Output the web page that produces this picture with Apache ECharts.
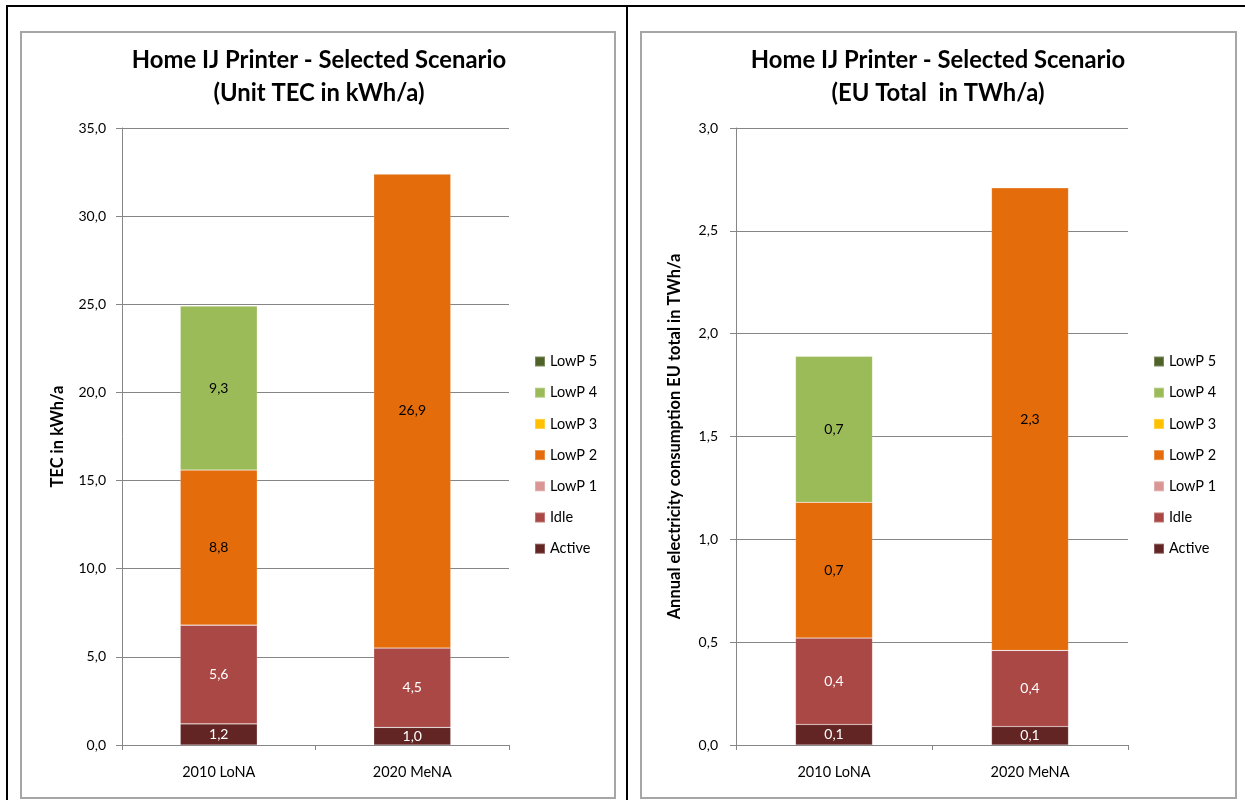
<!DOCTYPE html>
<html>
<head>
<meta charset="utf-8">
<title>Home IJ Printer - Selected Scenario</title>
<script src="https://cdn.jsdelivr.net/npm/echarts@6/dist/echarts.min.js"></script>
<style>
  html, body { margin: 0; padding: 0; background: #ffffff; }
  #chart { width: 1245px; height: 800px; }
</style>
</head>
<body>
<div id="chart"></div>
<script>
// Scenario categories and consumption modes
const categories = ['2010 LoNA', '2020 MeNA'];
const modeNames = ['Active', 'Idle', 'LowP 1', 'LowP 2', 'LowP 3', 'LowP 4', 'LowP 5'];
const modeColors = ['#632523', '#AA4846', '#D99694', '#E46C0A', '#FFC000', '#9BBB59', '#4F6228'];

// Unit TEC in kWh/a per mode
const unitActive = [1.2, 1.0];
const unitIdle = [5.6, 4.5];
const unitLowP1 = [0, 0];
const unitLowP2 = [8.8, 26.9];
const unitLowP3 = [0, 0];
const unitLowP4 = [9.3, 0];
const unitLowP5 = [0, 0];

// EU total in TWh/a per mode
const euActive = [0.10, 0.09];
const euIdle = [0.42, 0.37];
const euLowP1 = [0, 0];
const euLowP2 = [0.66, 2.25];
const euLowP3 = [0, 0];
const euLowP4 = [0.71, 0];
const euLowP5 = [0, 0];

// Axis ranges
const unitAxis = { max: 35, interval: 5 };
const euAxis = { max: 3, interval: 0.5 };

const unitData = [unitActive, unitIdle, unitLowP1, unitLowP2, unitLowP3, unitLowP4, unitLowP5];
const euData = [euActive, euIdle, euLowP1, euLowP2, euLowP3, euLowP4, euLowP5];
const labelDark = [false, false, true, true, true, true, false];

const FONT = 'Lato, "Open Sans", sans-serif';
const comma = v => Number(v).toFixed(1).replace('.', ',');

function buildSeries(dataSets, axisIndex, stack) {
  return dataSets.map((vals, i) => ({
    name: modeNames[i],
    type: 'bar',
    stack: stack,
    xAxisIndex: axisIndex,
    yAxisIndex: axisIndex,
    barWidth: 77,
    data: vals,
    itemStyle: { color: modeColors[i], borderColor: 'rgba(255,255,255,0.25)', borderWidth: 0.6 },
    label: {
      show: true,
      position: 'inside',
      fontFamily: FONT,
      fontSize: 14,
      color: labelDark[i] ? '#000000' : '#ffffff',
      formatter: p => (p.value > 0 ? comma(p.value) : '')
    },
    emphasis: { disabled: true }
  }));
}

function valueAxis(gridIndex, cfg, name, nameGap, labelMargin) {
  return {
    type: 'value',
    gridIndex: gridIndex,
    min: 0,
    max: cfg.max,
    interval: cfg.interval,
    name: name,
    nameLocation: 'middle',
    nameGap: nameGap,
    nameTextStyle: { fontFamily: FONT, fontSize: 16.5, fontWeight: 'bold', color: '#000' },
    axisLine: { show: true, lineStyle: { color: '#868686', width: 1 } },
    axisTick: { show: true, length: 6, inside: false, lineStyle: { color: '#868686' } },
    axisLabel: { fontFamily: FONT, fontSize: 14, color: '#000', margin: labelMargin, formatter: comma },
    splitLine: { show: true, lineStyle: { color: '#868686', width: 1 } }
  };
}

function categoryAxis(gridIndex) {
  return {
    type: 'category',
    gridIndex: gridIndex,
    data: categories,
    axisLine: { show: true, lineStyle: { color: '#868686', width: 1 } },
    axisTick: { show: true, length: 5, lineStyle: { color: '#868686' } },
    axisLabel: { fontFamily: FONT, fontSize: 14.5, color: '#000', margin: 20 }
  };
}

function legendAt(left) {
  return {
    orient: 'vertical',
    left: left,
    top: 354,
    padding: 0,
    data: modeNames.slice().reverse(),
    icon: 'rect',
    itemWidth: 10,
    itemHeight: 10,
    itemGap: 16.2,
    selectedMode: false,
    textStyle: { fontFamily: FONT, fontSize: 14.5, lineHeight: 14, color: '#000' }
  };
}

const titleStyle = { fontFamily: FONT, fontSize: 23.8, fontWeight: 'bold', color: '#000', lineHeight: 33 };

const chart = echarts.init(document.getElementById('chart'), null, { renderer: 'canvas' });
chart.setOption({
  animation: false,
  backgroundColor: '#ffffff',
  title: [
    { text: 'Home IJ Printer - Selected Scenario\n(Unit TEC in kWh/a)', left: 319, top: 43.5, padding: 0, textAlign: 'center', textStyle: titleStyle },
    { text: 'Home IJ Printer - Selected Scenario\n(EU Total  in TWh/a)', left: 938, top: 43.5, padding: 0, textAlign: 'center', textStyle: titleStyle }
  ],
  legend: [legendAt(534), legendAt(1153)],
  grid: [
    { left: 122, top: 128, width: 387, height: 617 },
    { left: 736, top: 128, width: 392, height: 617 }
  ],
  xAxis: [categoryAxis(0), categoryAxis(1)],
  yAxis: [
    valueAxis(0, unitAxis, 'TEC in kWh/a', 56, 16),
    valueAxis(1, euAxis, 'Annual electricity consumption EU total in TWh/a', 53, 18)
  ],
  series: buildSeries(unitData, 0, 'unit').concat(buildSeries(euData, 1, 'eu')),
  graphic: [
    // panel frames
    { type: 'rect', shape: { x: 21, y: 32, width: 594, height: 766 }, style: { fill: 'none', stroke: '#a6a6a6', lineWidth: 2 }, silent: true },
    { type: 'rect', shape: { x: 641, y: 32, width: 595, height: 766 }, style: { fill: 'none', stroke: '#a6a6a6', lineWidth: 2 }, silent: true },
    // black outer rules
    { type: 'rect', shape: { x: 6, y: 5, width: 1239, height: 2 }, style: { fill: '#000' }, silent: true },
    { type: 'rect', shape: { x: 6, y: 5, width: 2, height: 795 }, style: { fill: '#000' }, silent: true },
    { type: 'rect', shape: { x: 626, y: 5, width: 2, height: 795 }, style: { fill: '#000' }, silent: true }
  ]
});
</script>
</body>
</html>
